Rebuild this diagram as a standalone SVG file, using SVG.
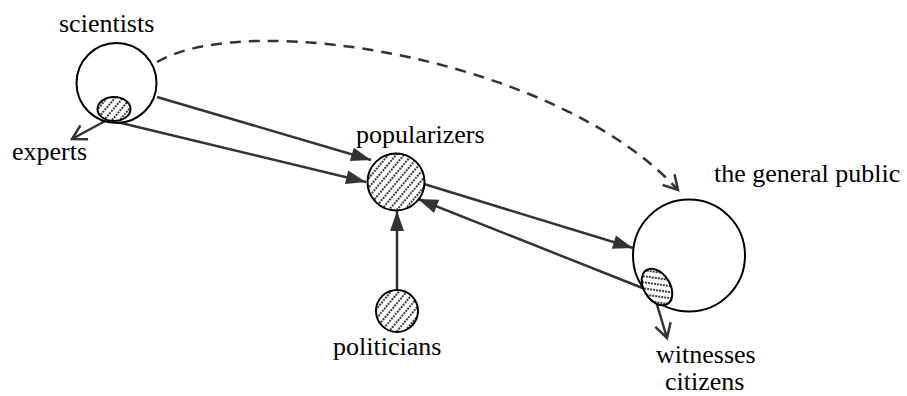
<svg xmlns="http://www.w3.org/2000/svg" width="907" height="396" viewBox="0 0 907 396">
<style>
.lbl{font-size:26px;fill:#000}
.node{stroke:#000;stroke-width:2}
.plain{fill:#fff}
.hatch{fill:url(#hatch)}
.conn{stroke:#333;stroke-width:2.5;fill:none}
.solid{marker-end:url(#filled)}
.open{marker-end:url(#openhead)}
.dash{stroke-dasharray:11 8}
</style>
<defs>
<pattern id="hatch" width="6" height="6" patternUnits="userSpaceOnUse" patternTransform="rotate(40)">
<rect width="6" height="6" fill="#fff"/>
<line x1="1" y1="0" x2="1" y2="6" stroke="#000" stroke-width="1.5" stroke-dasharray="2 1"/>
</pattern>
<marker id="filled" markerUnits="userSpaceOnUse" markerWidth="22" markerHeight="16" refX="20" refY="7" orient="auto" overflow="visible">
<path d="M0,0 L20,7 L0,14 z" fill="#333"/>
</marker>
<marker id="openhead" markerUnits="userSpaceOnUse" markerWidth="18" markerHeight="18" refX="14" refY="8" orient="auto" overflow="visible">
<path d="M0,0 L14,8 L0,16" fill="none" stroke="#333" stroke-width="2.5"/>
</marker>
</defs>
<g id="connectors">
<path class="conn dash open" d="M157,62 C250,8 560,60 678,190"/>
<line class="conn solid" x1="157" y1="97" x2="371" y2="160"/>
<line class="conn solid" x1="117" y1="122" x2="366" y2="182"/>
<line class="conn solid" x1="424" y1="184" x2="633" y2="248"/>
<line class="conn solid" x1="645" y1="289" x2="418" y2="199"/>
<line class="conn solid" x1="397" y1="290" x2="397" y2="211"/>
<line class="conn open" x1="107" y1="120" x2="72" y2="139"/>
<line class="conn open" x1="655" y1="298" x2="667" y2="338"/>
</g>
<g font-family="'Liberation Serif', 'Times New Roman', 'DejaVu Serif', serif">
<g id="scientists">
<circle class="node plain" cx="116.5" cy="83" r="40"/>
<text class="lbl" x="59" y="32">scientists</text>
</g>
<g id="experts">
<ellipse class="node hatch" cx="114" cy="109" rx="16.5" ry="12"/>
<text class="lbl" x="12" y="160">experts</text>
</g>
<g id="popularizers">
<circle class="node hatch" cx="396" cy="182" r="28.5"/>
<text class="lbl" x="356" y="143">popularizers</text>
</g>
<g id="politicians">
<circle class="node hatch" cx="397" cy="311" r="21"/>
<text class="lbl" x="333" y="355">politicians</text>
</g>
<g id="general-public">
<circle class="node plain" cx="689" cy="255.5" r="56"/>
<text class="lbl" x="714" y="182">the general public</text>
</g>
<g id="witnesses-citizens">
<ellipse class="node hatch" cx="657" cy="287" rx="20" ry="13" transform="rotate(58 657 287)"/>
<text class="lbl" x="656" y="363">witnesses</text>
<text class="lbl" x="665" y="390">citizens</text>
</g>
</g>
</svg>
